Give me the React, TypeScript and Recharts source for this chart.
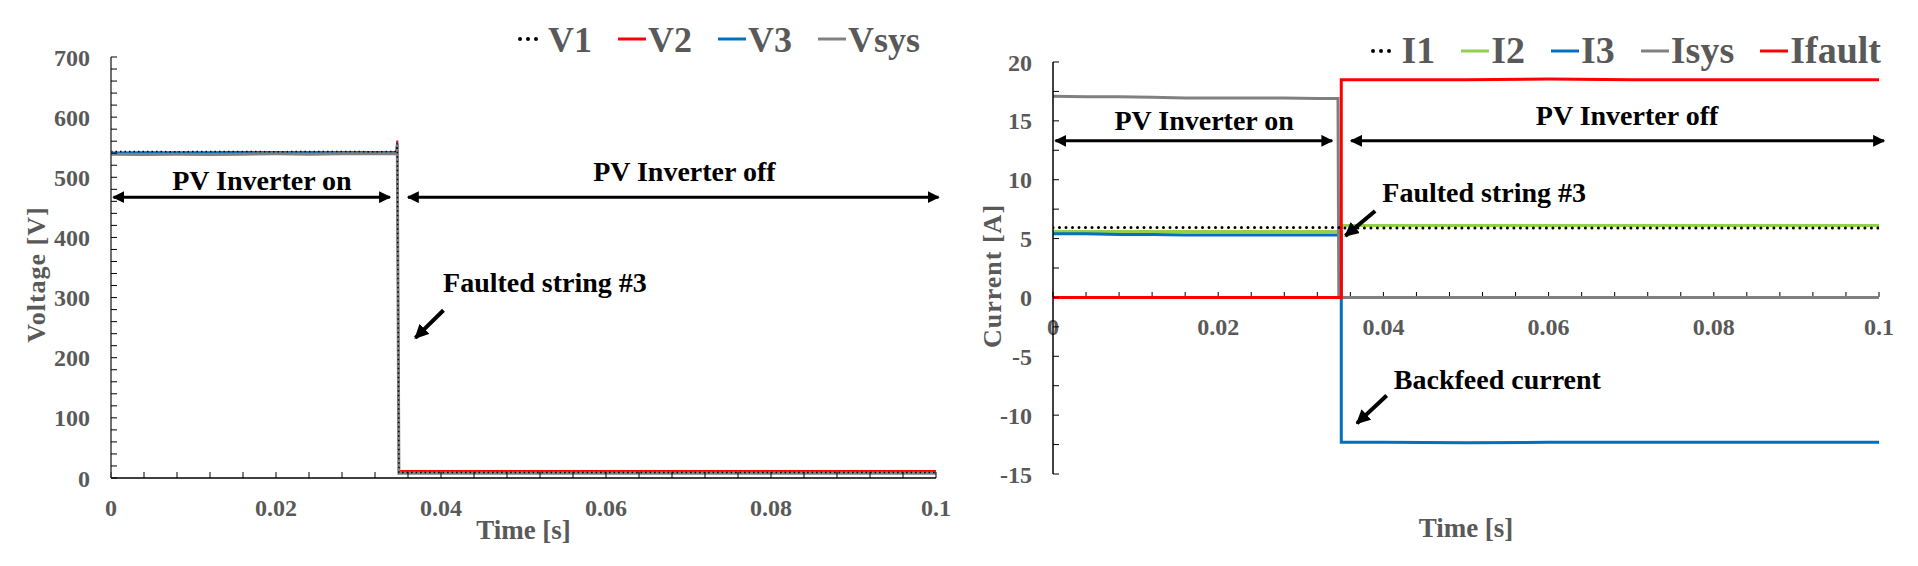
import React from 'react';
import { LineChart, Line, XAxis, YAxis, ReferenceLine, ReferenceDot } from 'recharts';

const FONT = '"Liberation Serif", "Times New Roman", serif';
const GRAY_TEXT = '#595959';

// time ticks (minor every 0.004 s, labelled every 0.02 s)
const T_TICKS = [0, 0.004, 0.008, 0.012, 0.016, 0.02, 0.024, 0.028, 0.032, 0.036, 0.04, 0.044, 0.048, 0.052, 0.056, 0.06, 0.064, 0.068, 0.072, 0.076, 0.08, 0.084, 0.088, 0.092, 0.096, 0.1];
const T_LABELS = ['0', '0.02', '0.04', '0.06', '0.08', '0.1'];
const V_TICKS = [0, 20, 40, 60, 80, 100, 120, 140, 160, 180, 200, 220, 240, 260, 280, 300, 320, 340, 360, 380, 400, 420, 440, 460, 480, 500, 520, 540, 560, 580, 600, 620, 640, 660, 680, 700];
const V_LABELS = ['0', '100', '200', '300', '400', '500', '600', '700'];
const I_TICKS = [-15, -12.5, -10, -7.5, -5, -2.5, 0, 2.5, 5, 7.5, 10, 12.5, 15, 17.5, 20];
const I_LABELS = ['-15', '-10', '-5', '0', '5', '10', '15', '20'];

// voltage traces
const V_TIME = [0, 0.004, 0.008, 0.012, 0.016, 0.02, 0.024, 0.028, 0.032, 0.0346, 0.0347, 0.0349, 0.036, 0.04, 0.05, 0.06, 0.07, 0.08, 0.09, 0.1];
const V1 = [543, 543, 542.5, 543, 543, 542.5, 543, 543, 542.5, 543, 556, 9, 9, 9, 9, 9, 9, 9, 9, 9];
const V2 = [541, 541, 541.5, 541, 542, 541, 541.5, 541, 541.5, 541, 561, 11.5, 11.5, 11.5, 11.5, 11.5, 11.5, 11.5, 11.5, 11.5];
const V3 = [541, 541.5, 541, 541.5, 542, 542, 541.5, 542, 542, 542, 558, 9.5, 9.5, 9.5, 9.5, 9.5, 9.5, 9.5, 9.5, 9.5];
const VSYS = [538.5, 538, 538.5, 538, 538.5, 539, 538.5, 539, 539, 539, 555, 8, 8, 8, 8, 8, 8, 8, 8, 8];

// current traces
const I_TIME = [0, 0.004, 0.008, 0.012, 0.016, 0.02, 0.024, 0.028, 0.032, 0.0345, 0.0346, 0.0349, 0.0349, 0.036, 0.04, 0.05, 0.06, 0.07, 0.08, 0.09, 0.1];
const I1 = [5.95, 5.95, 5.95, 5.95, 5.95, 5.95, 5.95, 5.95, 5.95, 5.95, 5.95, 5.95, 5.9, 5.9, 5.9, 5.9, 5.9, 5.9, 5.9, 5.9, 5.9];
const I2 = [5.6, 5.6, 5.6, 5.6, 5.6, 5.6, 5.6, 5.6, 5.6, 5.6, 5.6, 5.6, 6.1, 6.1, 6.1, 6.1, 6.1, 6.1, 6.1, 6.1, 6.1];
const I3 = [5.4, 5.4, 5.35, 5.35, 5.3, 5.3, 5.3, 5.3, 5.3, 5.3, 5.3, 5.3, -12.3, -12.3, -12.3, -12.35, -12.3, -12.3, -12.3, -12.3, -12.3];
const ISYS = [17.1, 17.05, 17.05, 17, 16.95, 16.95, 16.95, 16.95, 16.9, 16.9, 0, 0, 0, 0, 0, 0, 0, 0, 0, 0, 0];
const IFAULT = [0, 0, 0, 0, 0, 0, 0, 0, 0, 0, 0, 0, 18.5, 18.5, 18.5, 18.5, 18.55, 18.5, 18.5, 18.5, 18.5];

const vRows = V_TIME.map((t, i) => ({ t, V1: V1[i], V2: V2[i], V3: V3[i], Vsys: VSYS[i] }));
const iRows = I_TIME.map((t, i) => ({ t, I1: I1[i], I2: I2[i], I3: I3[i], Isys: ISYS[i], Ifault: IFAULT[i] }));

const V_LEGEND = [
  { name: 'V1', color: '#000000', dotted: true },
  { name: 'V2', color: '#ff0000' },
  { name: 'V3', color: '#0070c0' },
  { name: 'Vsys', color: '#808080' },
];
const I_LEGEND = [
  { name: 'I1', color: '#000000', dotted: true },
  { name: 'I2', color: '#92d050' },
  { name: 'I3', color: '#0070c0' },
  { name: 'Isys', color: '#808080' },
  { name: 'Ifault', color: '#ff0000' },
];

const labelIf = (labels: string[]) => (v: number) => (labels.includes(String(+v.toFixed(3))) ? String(+v.toFixed(3)) : '');

const tickStyle = { fill: GRAY_TEXT, fontSize: 24, fontWeight: 700, fontFamily: FONT };
const noteStyle = { fill: '#000', fontSize: 28, fontWeight: 700, fontFamily: FONT };

const arrow = (w: number, both: boolean) => (p: any) => (
  <line
    x1={p.x1}
    y1={p.y1}
    x2={p.x2}
    y2={p.y2}
    stroke="#000"
    strokeWidth={w}
    markerStart={both ? 'url(#headS)' : undefined}
    markerEnd={both ? 'url(#headS)' : 'url(#headL)'}
  />
);

const xTitle = (dy: number) => (props: any) => {
  const vb = props.viewBox;
  return (
    <text x={vb.x + vb.width / 2} y={vb.y + dy} textAnchor="middle" fill={GRAY_TEXT} fontSize={27} fontWeight={700} fontFamily={FONT}>
      Time [s]
    </text>
  );
};

const yTitle = (text: string, cx: number, shift: number) => (props: any) => {
  const vb = props.viewBox;
  const cy = vb.y + vb.height / 2 + shift;
  return (
    <text
      x={cx}
      y={cy}
      transform={`rotate(-90, ${cx}, ${cy})`}
      textAnchor="middle"
      dominantBaseline="central"
      fill={GRAY_TEXT}
      fontSize={26}
      fontWeight={700}
      letterSpacing={1}
      fontFamily={FONT}
    >
      {text}
    </text>
  );
};

const LegendRow: React.FC<{ items: any[]; right: number; top: number; size: number; lineY: number }> = ({ items, right, top, size, lineY }) => (
  <div
    style={{
      position: 'absolute',
      right,
      top,
      display: 'flex',
      gap: 26,
      fontFamily: FONT,
      fontWeight: 700,
      fontSize: size,
      lineHeight: 1,
      color: GRAY_TEXT,
    }}
  >
    {items.map((it) => (
      <div key={it.name} style={{ display: 'flex', alignItems: 'flex-start' }}>
        <svg width={it.dotted ? 32 : 30} height={size} style={{ display: 'block' }}>
          {it.dotted ? (
            [4, 12, 20].map((cx) => <circle key={cx} cx={cx} cy={lineY} r={2} fill="#000" />)
          ) : (
            <line x1={0} x2={28} y1={lineY} y2={lineY} stroke={it.color} strokeWidth={3} />
          )}
        </svg>
        <span>{it.name}</span>
      </div>
    ))}
  </div>
);

export default function App() {
  return (
    <div style={{ position: 'absolute', left: 0, top: 0, width: 1918, height: 566, background: '#fff', overflow: 'hidden' }}>
      <svg width={0} height={0} style={{ position: 'absolute' }}>
        <defs>
          <marker id="headS" viewBox="0 0 10 10" refX="9" refY="5" markerWidth="4" markerHeight="4" orient="auto-start-reverse">
            <path d="M0,0 L10,5 L0,10 z" fill="#000" />
          </marker>
          <marker id="headL" viewBox="0 0 10 10" refX="9" refY="5" markerWidth="3.6" markerHeight="3.6" orient="auto-start-reverse">
            <path d="M0,0 L10,5 L0,10 z" fill="#000" />
          </marker>
        </defs>
      </svg>

      {/* voltage chart */}
      <div style={{ position: 'absolute', left: 0, top: 0 }}>
        <LineChart width={960} height={566} data={vRows} margin={{ top: 57, right: 24, bottom: 18, left: 0 }}>
          <XAxis
            dataKey="t"
            type="number"
            domain={[0, 0.1]}
            allowDataOverflow
            ticks={T_TICKS}
            interval={0}
            tickFormatter={labelIf(T_LABELS)}
            tickSize={-6}
            tickMargin={27}
            height={70}
            axisLine={{ stroke: '#000', strokeWidth: 1.5 }}
            tickLine={{ stroke: '#000' }}
            tick={tickStyle}
            label={{ content: xTitle(61) }}
          />
          <YAxis
            type="number"
            domain={[0, 700]}
            allowDataOverflow
            ticks={V_TICKS}
            interval={0}
            tickFormatter={labelIf(V_LABELS)}
            tickSize={-6}
            tickMargin={27}
            width={111}
            axisLine={{ stroke: '#404040', strokeWidth: 1.5 }}
            tickLine={{ stroke: '#000' }}
            tick={tickStyle}
            label={{ content: yTitle('Voltage [V]', 36, 7) }}
          />
          <Line dataKey="V2" stroke="#ff0000" strokeWidth={2} dot={false} isAnimationActive={false} />
          <Line dataKey="V3" stroke="#0070c0" strokeWidth={2} dot={false} isAnimationActive={false} />
          <Line dataKey="Vsys" stroke="#808080" strokeWidth={3} dot={false} isAnimationActive={false} />
          <Line dataKey="V1" stroke="#000" strokeWidth={1.5} strokeDasharray="1.5 3" dot={false} isAnimationActive={false} />

          <ReferenceLine segment={[{ x: 0.0003, y: 467 }, { x: 0.0338, y: 467 }]} shape={arrow(3, true)} ifOverflow="visible" />
          <ReferenceLine segment={[{ x: 0.036, y: 467 }, { x: 0.1003, y: 467 }]} shape={arrow(3, true)} ifOverflow="visible" />
          <ReferenceLine segment={[{ x: 0.0403, y: 279 }, { x: 0.0369, y: 233 }]} shape={arrow(4, false)} ifOverflow="visible" />
          <ReferenceDot x={0.0183} y={495} r={0} fill="none" stroke="none" label={{ value: 'PV Inverter on', position: 'center', ...noteStyle }} />
          <ReferenceDot x={0.0695} y={510} r={0} fill="none" stroke="none" label={{ value: 'PV Inverter off', position: 'center', ...noteStyle }} />
          <ReferenceDot x={0.0526} y={326} r={0} fill="none" stroke="none" label={{ value: 'Faulted string #3', position: 'center', ...noteStyle }} />
        </LineChart>
      </div>
      <LegendRow items={V_LEGEND} right={998} top={22} size={36} lineY={17} />

      {/* current chart: x axis drawn at y = 0 */}
      <div style={{ position: 'absolute', left: 960, top: 0 }}>
        <LineChart width={958} height={566} data={iRows} margin={{ top: 62, right: 39, bottom: 229, left: 93 }}>
          <XAxis
            dataKey="t"
            type="number"
            domain={[0, 0.1]}
            allowDataOverflow
            ticks={T_TICKS}
            interval={0}
            tickFormatter={labelIf(T_LABELS)}
            tickSize={-5}
            tickMargin={26}
            height={40}
            axisLine={{ stroke: '#000', strokeWidth: 1.5 }}
            tickLine={{ stroke: '#000' }}
            tick={tickStyle}
          />
        </LineChart>
      </div>
      <div style={{ position: 'absolute', left: 960, top: 0 }}>
        <LineChart width={958} height={566} data={iRows} margin={{ top: 62, right: 39, bottom: 12, left: 0 }}>
          <XAxis
            dataKey="t"
            type="number"
            domain={[0, 0.1]}
            allowDataOverflow
            ticks={T_TICKS}
            height={80}
            axisLine={false}
            tickLine={false}
            tick={false}
            label={{ content: xTitle(63) }}
          />
          <YAxis
            type="number"
            domain={[-15, 20]}
            allowDataOverflow
            ticks={I_TICKS}
            interval={0}
            tickFormatter={labelIf(I_LABELS)}
            tickSize={-6}
            tickMargin={27}
            width={93}
            axisLine={{ stroke: '#000', strokeWidth: 1.5 }}
            tickLine={{ stroke: '#000' }}
            tick={tickStyle}
            label={{ content: yTitle('Current [A]', 32, 8) }}
          />
          <Line dataKey="I2" stroke="#92d050" strokeWidth={3} dot={false} isAnimationActive={false} />
          <Line dataKey="I3" stroke="#0070c0" strokeWidth={3} dot={false} isAnimationActive={false} />
          <Line dataKey="Isys" stroke="#808080" strokeWidth={3} dot={false} isAnimationActive={false} />
          <Line dataKey="Ifault" stroke="#ff0000" strokeWidth={3} dot={false} isAnimationActive={false} />
          <Line dataKey="I1" stroke="#000" strokeWidth={3} strokeDasharray="0 6.5" strokeLinecap="round" dot={false} isAnimationActive={false} />

          <ReferenceLine segment={[{ x: 0.0003, y: 13.3 }, { x: 0.0338, y: 13.3 }]} shape={arrow(3, true)} ifOverflow="visible" />
          <ReferenceLine segment={[{ x: 0.0361, y: 13.3 }, { x: 0.1006, y: 13.3 }]} shape={arrow(3, true)} ifOverflow="visible" />
          <ReferenceLine segment={[{ x: 0.039, y: 7.35 }, { x: 0.0354, y: 5.23 }]} shape={arrow(4, false)} ifOverflow="visible" />
          <ReferenceLine segment={[{ x: 0.0404, y: -8.33 }, { x: 0.0368, y: -10.7 }]} shape={arrow(4, false)} ifOverflow="visible" />
          <ReferenceDot x={0.0183} y={15.06} r={0} fill="none" stroke="none" label={{ value: 'PV Inverter on', position: 'center', ...noteStyle }} />
          <ReferenceDot x={0.0695} y={15.5} r={0} fill="none" stroke="none" label={{ value: 'PV Inverter off', position: 'center', ...noteStyle }} />
          <ReferenceDot x={0.0522} y={8.95} r={0} fill="none" stroke="none" label={{ value: 'Faulted string #3', position: 'center', ...noteStyle }} />
          <ReferenceDot x={0.0538} y={-6.97} r={0} fill="none" stroke="none" label={{ value: 'Backfeed current', position: 'center', ...noteStyle }} />
        </LineChart>
      </div>
      <LegendRow items={I_LEGEND} right={37} top={31} size={38} lineY={20} />
    </div>
  );
}
